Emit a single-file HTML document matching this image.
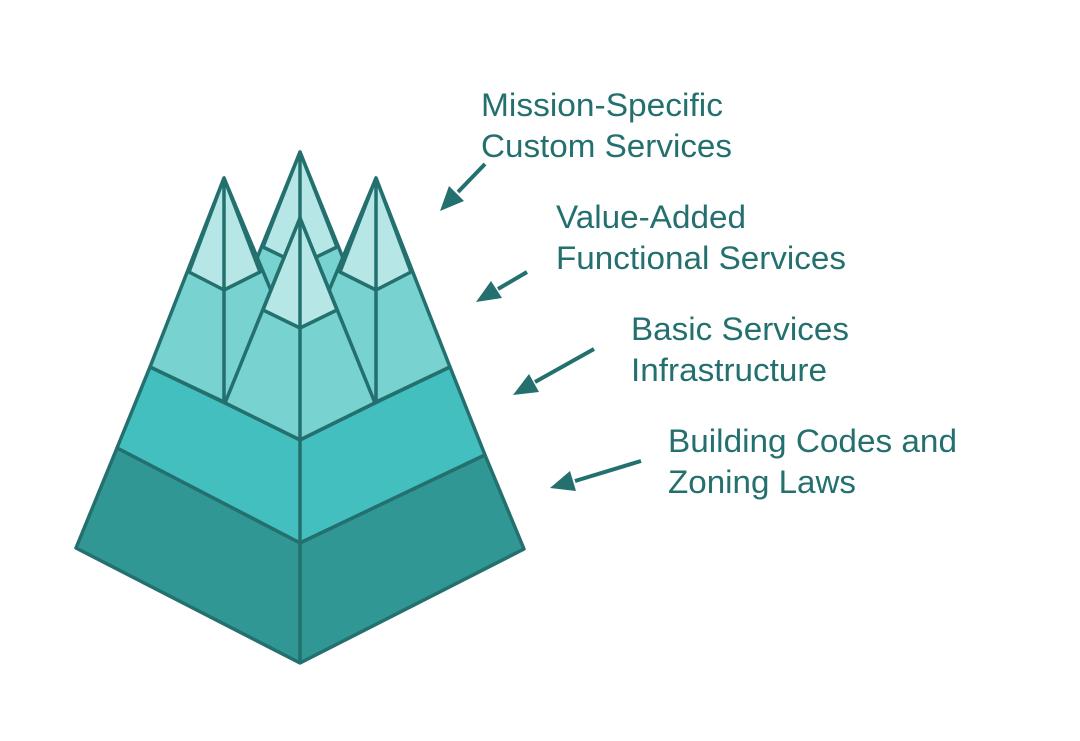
<!DOCTYPE html>
<html><head><meta charset="utf-8"><style>
html,body{margin:0;padding:0;background:#fff;}
svg{display:block;}
text{font-family:"Liberation Sans",sans-serif;font-size:32px;fill:#23706f;}
</style></head><body>
<svg width="1080" height="741" viewBox="0 0 1080 741" xmlns="http://www.w3.org/2000/svg">
<g stroke="#23706f" stroke-width="3.5" stroke-linejoin="round">
<polygon points="300,152 240,300 360,300" fill="#78d2d0"/>
<polygon points="300,152 263,247 300,265 337,247" fill="#b6e6e6"/>
<line x1="300" y1="152" x2="300" y2="300"/>
<polygon points="224,178 150,367 224,402 300,360" fill="#78d2d0"/>
<polygon points="224,178 189,272 224,290 260,272" fill="#b6e6e6"/>
<line x1="224" y1="178" x2="224" y2="402"/>
<polygon points="376,178 450,367 376,402 300,360" fill="#78d2d0"/>
<polygon points="376,178 411,272 376,290 340,272" fill="#b6e6e6"/>
<line x1="376" y1="178" x2="376" y2="402"/>
<polygon points="300,218 225,403 300,440 375,403" fill="#78d2d0"/>
<polygon points="300,218 263,310 300,328 337,310" fill="#b6e6e6"/>
<polygon points="150,367 117,448 300,543 485,455 450,367 375,403 300,440 225,403" fill="#44bfbf"/>
<polygon points="117,448 76,548 300,663 524,549 485,455 300,543" fill="#319795"/>
<line x1="300" y1="218" x2="300" y2="663"/>
</g>
<g stroke="#23706f" stroke-width="4" fill="#23706f">
<line x1="485" y1="164" x2="458" y2="192"/>
<polygon points="440,211 464,201 449,186" stroke="none"/>
<line x1="527" y1="272" x2="498" y2="289"/>
<polygon points="476,302 502,298 491,281" stroke="none"/>
<line x1="594" y1="349" x2="535" y2="382"/>
<polygon points="513,395 539,392 529,374" stroke="none"/>
<line x1="641" y1="461" x2="575" y2="481"/>
<polygon points="550,488 576,491 570,471" stroke="none"/>
</g>
<text x="481" y="116" textLength="242" lengthAdjust="spacingAndGlyphs">Mission-Specific</text>
<text x="481" y="157" textLength="251" lengthAdjust="spacingAndGlyphs">Custom Services</text>
<text x="556" y="228" textLength="190" lengthAdjust="spacingAndGlyphs">Value-Added</text>
<text x="556" y="269" textLength="290" lengthAdjust="spacingAndGlyphs">Functional Services</text>
<text x="631" y="340" textLength="218" lengthAdjust="spacingAndGlyphs">Basic Services</text>
<text x="631" y="381" textLength="196" lengthAdjust="spacingAndGlyphs">Infrastructure</text>
<text x="668" y="452" textLength="289" lengthAdjust="spacingAndGlyphs">Building Codes and</text>
<text x="668" y="493" textLength="188" lengthAdjust="spacingAndGlyphs">Zoning Laws</text>
</svg>
</body></html>
